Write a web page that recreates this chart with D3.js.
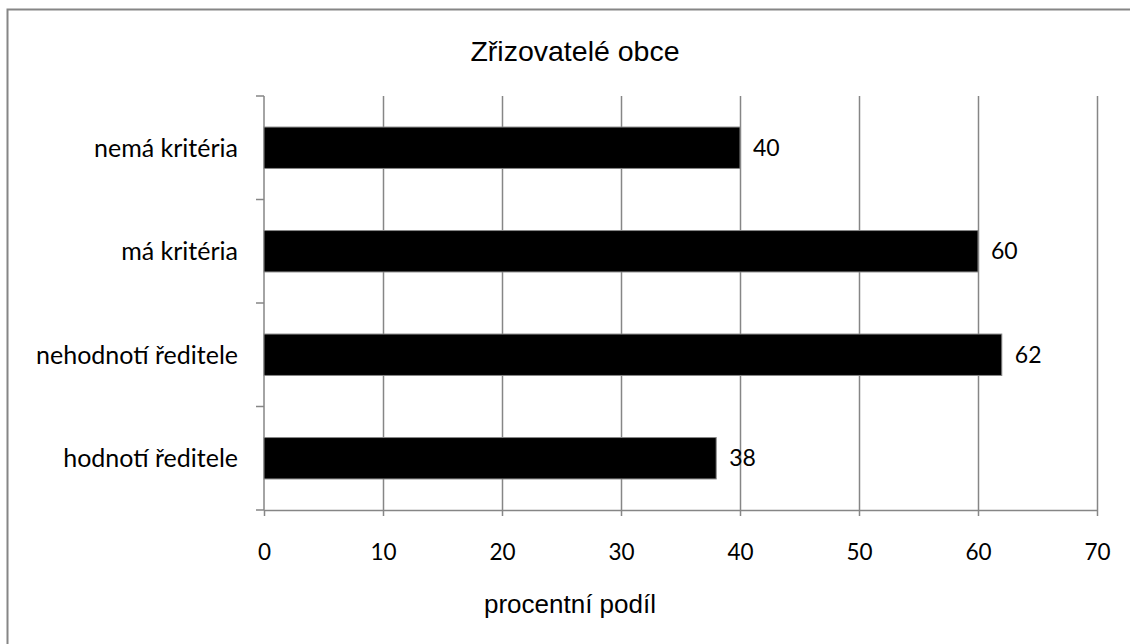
<!DOCTYPE html>
<html><head><meta charset="utf-8">
<script src="https://cdn.jsdelivr.net/npm/d3@7"></script>
<style>body{margin:0;background:#fff}svg{display:block}</style>
</head><body>
<svg id="c" width="1130" height="644"></svg>
<script>
const categories = ["nemá kritéria", "má kritéria", "nehodnotí ředitele", "hodnotí ředitele"];
const values = [40, 60, 62, 38];
const xTicks = [0, 10, 20, 30, 40, 50, 60, 70];
const title = "Zřizovatelé obce";
const xTitle = "procentní podíl";

const svg = d3.select("#c");
const L = 264, R = 1097, T = 96, B = 510;
const gray = "#868686";
const labelFont = "Lato, 'Open Sans', sans-serif";

svg.append("rect").attr("x", 7.5).attr("y", 9.5).attr("width", 1200).attr("height", 700)
  .attr("fill", "none").attr("stroke", gray).attr("stroke-width", 2);

const x = d3.scaleLinear().domain([0, 70]).range([L, R]);
const y = d3.scaleBand().domain(categories).range([T, B]).paddingInner(0.6).paddingOuter(0.3);
const yb = d3.scaleBand().domain(categories).range([T, B]);

// gridlines
svg.append("g").selectAll("line").data(xTicks.slice(1)).join("line")
  .attr("x1", d => Math.round(x(d)) + 0.5).attr("x2", d => Math.round(x(d)) + 0.5)
  .attr("y1", T).attr("y2", B).attr("stroke", gray).attr("stroke-width", 1.5);

// x axis
const xa = svg.append("g").attr("transform", `translate(0,${B})`)
  .call(d3.axisBottom(x).tickValues(xTicks).tickSize(6).tickPadding(28).tickSizeOuter(0));
xa.select(".domain").attr("stroke", gray).attr("stroke-width", 1.5);
xa.selectAll(".tick line").attr("stroke", gray).attr("stroke-width", 1.5);
xa.selectAll("text").attr("font-family", labelFont).attr("font-size", 22.5).attr("fill", "#000");

// y axis
const ya = svg.append("g").attr("transform", `translate(${L},0)`);
ya.append("line").attr("x1", 0).attr("x2", 0).attr("y1", T).attr("y2", B).attr("stroke", gray).attr("stroke-width", 1.5);
const edges = categories.map(c => yb(c)).concat([B]);
ya.selectAll(".tk").data(edges).join("line").attr("class", "tk")
  .attr("x1", -8).attr("x2", 0).attr("y1", d => d).attr("y2", d => d)
  .attr("stroke", gray).attr("stroke-width", 1.5);
ya.selectAll("text").data(categories).join("text")
  .attr("x", -26).attr("y", d => yb(d) + yb.bandwidth() / 2)
  .attr("dy", "0.35em").attr("text-anchor", "end")
  .attr("font-family", labelFont).attr("font-size", 25).text(d => d);

// bars
svg.append("g").selectAll("rect").data(values).join("rect")
  .attr("x", x(0)).attr("y", (d, i) => y(categories[i]))
  .attr("width", d => x(d) - x(0)).attr("height", y.bandwidth())
  .attr("fill", "#000").attr("stroke", gray).attr("stroke-width", 1);

// value labels
svg.append("g").selectAll("text").data(values).join("text")
  .attr("x", d => x(d) + 13).attr("y", (d, i) => y(categories[i]) + y.bandwidth() / 2)
  .attr("dy", "0.35em").attr("font-family", labelFont).attr("font-size", 23).text(d => d);

svg.append("text").attr("x", 575).attr("y", 61).attr("text-anchor", "middle")
  .attr("font-family", "'Liberation Sans', Arial, sans-serif").attr("font-size", 28.5).text(title);
svg.append("text").attr("x", 570).attr("y", 613).attr("text-anchor", "middle")
  .attr("font-family", "'Liberation Sans', Arial, sans-serif").attr("font-size", 26).text(xTitle);
</script>
</body></html>
